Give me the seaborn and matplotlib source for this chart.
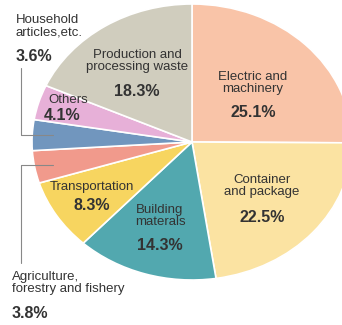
import matplotlib
matplotlib.use("Agg")
import matplotlib.pyplot as plt
import seaborn as sns

sns.set_theme(style="white")
plt.rcParams['font.family'] = ['Liberation Sans', 'DejaVu Sans']

categories = ["Electric and\nmachinery", "Container\nand package", "Building\nmaterals",
              "Transportation", "Agriculture,\nforestry and fishery", "Household\narticles,etc.",
              "Others", "Production and\nprocessing waste"]
values = [25.1, 22.5, 14.3, 8.3, 3.8, 3.6, 4.1, 18.3]
colors = ["#F9C4A8", "#FBE3A2", "#52A8AF", "#F7D560", "#F19A8C", "#7196BE", "#E7B0D8", "#D0CDBE"]

W, H = 342, 325
CX, CY, RX, RY = 192, 142, 160, 138

fig = plt.figure(figsize=(W / 100, H / 100), dpi=100)
ax = fig.add_axes([0, 0, 1, 1])
ax.pie(values, colors=colors, startangle=90, counterclock=False,
       wedgeprops=dict(edgecolor="white", linewidth=1.2))
ax.set_aspect('auto')
ax.set_xlim(-CX / RX, (W - CX) / RX)
ax.set_ylim(-(H - CY) / RY, CY / RY)
ax.axis('off')


def P(px, py):
    return (px - CX) / RX, (CY - py) / RY


tc = "#333333"
lab_fs = 9.5
pct_fs = 11.5

# inside labels: (category index, label pos, pct pos)
inside = [
    (0, (253, 83), (253, 113)),
    (1, (262, 186), (262, 218)),
    (2, (160, 216), (160, 246)),
    (3, (92, 187), (92, 206)),
    (7, (137, 61), (137, 92)),
    (6, (68, 100), (62, 116)),
]
for i, lp, pp in inside:
    ax.text(*P(*lp), categories[i], ha='center', va='center', fontsize=lab_fs,
            color=tc, linespacing=1.05)
    ax.text(*P(*pp), f"{values[i]}%", ha='center', va='center', fontsize=pct_fs,
            color=tc, fontweight='bold')

# outside labels
ax.text(*P(16, 26), categories[5], ha='left', va='center', fontsize=lab_fs,
        color=tc, linespacing=1.05)
ax.text(*P(16, 57), f"{values[5]}%", ha='left', va='center', fontsize=pct_fs,
        color=tc, fontweight='bold')
ax.text(*P(12, 283), categories[4], ha='left', va='center', fontsize=lab_fs,
        color=tc, linespacing=1.05)
ax.text(*P(12, 313), f"{values[4]}%", ha='left', va='center', fontsize=pct_fs,
        color=tc, fontweight='bold')

# leader lines
lc = "#888888"
xs, ys = zip(*[P(21, 68), P(21, 135), P(53, 135)])
ax.plot(xs, ys, color=lc, lw=0.8)
xs, ys = zip(*[P(53, 165), P(21, 165), P(21, 263)])
ax.plot(xs, ys, color=lc, lw=0.8)

fig.savefig("out.png", dpi=100)
